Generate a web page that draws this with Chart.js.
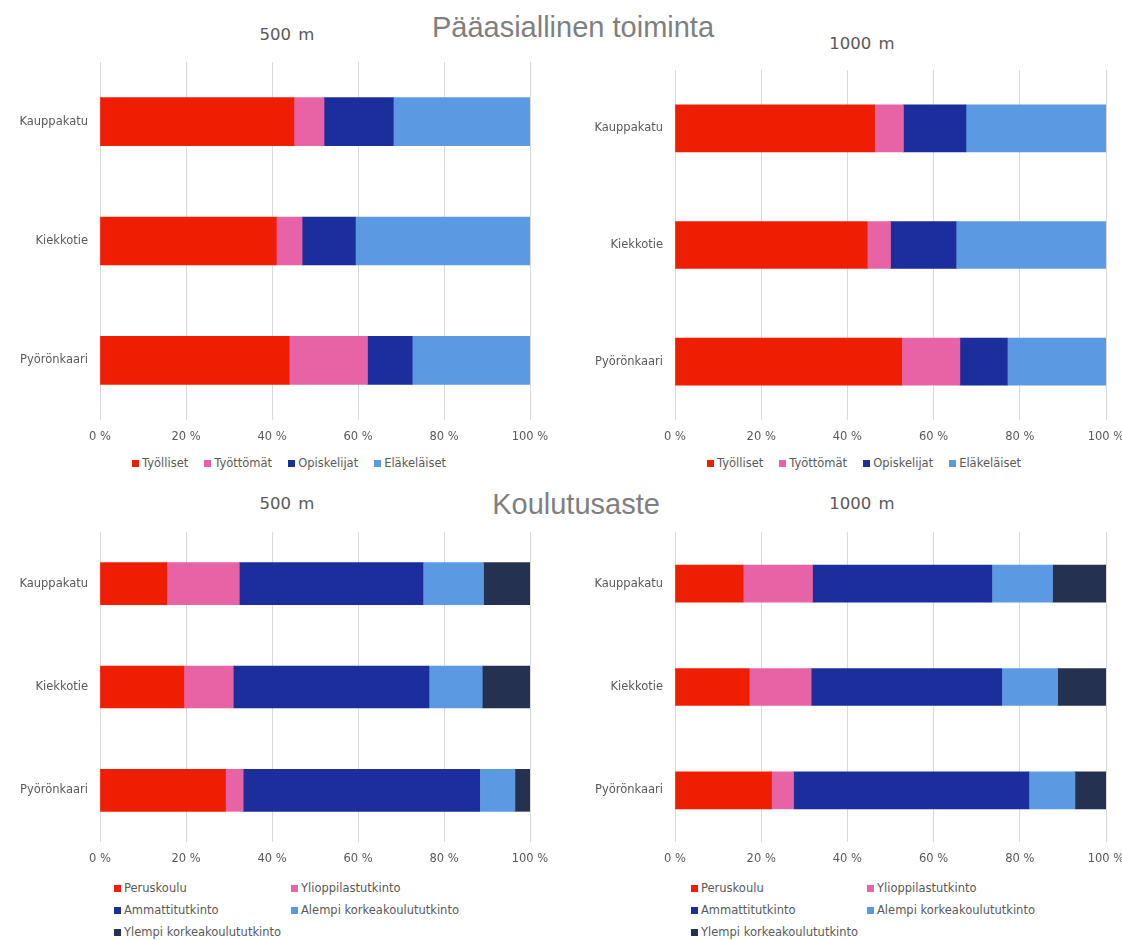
<!DOCTYPE html>
<html lang="fi">
<head>
<meta charset="utf-8">
<title>Pääasiallinen toiminta ja koulutusaste</title>
<script src="https://cdn.jsdelivr.net/npm/chart.js@4.4.1/dist/chart.umd.min.js"></script>
<style>
  html, body { margin: 0; padding: 0; background: #fff; }
  body { width: 1122px; height: 940px; position: relative; overflow: hidden; font-family: "DejaVu Sans", sans-serif; }
  .heading { position: absolute; font-family: "Liberation Sans", Arial, sans-serif; font-size: 29px; color: #7f7f7f; line-height: 34px; white-space: nowrap; transform: translateX(-50%); }
  .subtitle { position: absolute; font-size: 16.5px; color: #595959; line-height: 20px; white-space: nowrap; transform: translateX(-50%); word-spacing: 2px; }
  canvas { position: absolute; }
  .legend { position: absolute; font-size: 11.5px; color: #595959; line-height: 14px; white-space: nowrap; }
  .legend.row { transform: translateX(-50%); display: flex; gap: 16px; }
  .legend .item { display: flex; align-items: center; }
  .legend .box { width: 7px; height: 7px; margin-right: 3px; flex: none; }
  .legend.grid .item { position: absolute; }
</style>
</head>
<body>
<div class="heading" style="left:573px; top:10px;">Pääasiallinen toiminta</div>
<div class="heading" style="left:576px; top:487px;">Koulutusaste</div>

<div class="subtitle" style="left:287px; top:25px;">500 m</div>
<div class="subtitle" style="left:862px; top:34px;">1000 m</div>
<div class="subtitle" style="left:287px; top:494px;">500 m</div>
<div class="subtitle" style="left:862px; top:494px;">1000 m</div>

<canvas id="act500" width="560" height="400" style="left:0px; top:50px;"></canvas>
<canvas id="act1000" width="562" height="400" style="left:560px; top:50px;"></canvas>
<canvas id="edu500" width="560" height="355" style="left:0px; top:520px;"></canvas>
<canvas id="edu1000" width="562" height="355" style="left:560px; top:520px;"></canvas>

<div id="legAct500" class="legend row" style="left:289px; top:456px;"></div>
<div id="legAct1000" class="legend row" style="left:864px; top:456px;"></div>
<div id="legEdu500" class="legend grid" style="left:114px; top:881px;"></div>
<div id="legEdu1000" class="legend grid" style="left:691px; top:881px;"></div>

<script>
// Areas compared in every chart
const places = ['Kauppakatu', 'Kiekkotie', 'Pyörönkaari'];

// Axis ticks (percent)
const percentTicks = [0, 20, 40, 60, 80, 100];

// Main activity, series names
const activityNames = ['Työlliset', 'Työttömät', 'Opiskelijat', 'Eläkeläiset'];

// Main activity within 500 m (% of residents)
const tyolliset500 = [45.1, 41.0, 44.0];
const tyottomat500 = [7.0, 6.0, 18.2];
const opiskelijat500 = [16.1, 12.4, 10.4];
const elakelaiset500 = [31.8, 40.6, 27.4];

// Main activity within 1000 m (% of residents)
const tyolliset1000 = [46.3, 44.6, 52.6];
const tyottomat1000 = [6.7, 5.4, 13.5];
const opiskelijat1000 = [14.5, 15.2, 11.0];
const elakelaiset1000 = [32.5, 34.8, 22.9];

// Level of education, series names
const educationNames = ['Peruskoulu', 'Ylioppilastutkinto', 'Ammattitutkinto', 'Alempi korkeakoulututkinto', 'Ylempi korkeakoulututkinto'];

// Level of education within 500 m (% of residents)
const peruskoulu500 = [15.5, 19.5, 29.2];
const ylioppilas500 = [16.9, 11.5, 4.1];
const ammatti500 = [42.7, 45.5, 55.0];
const alempiKk500 = [14.1, 12.4, 8.2];
const ylempiKk500 = [10.8, 11.1, 3.5];

// Level of education within 1000 m (% of residents)
const peruskoulu1000 = [15.8, 17.2, 22.4];
const ylioppilas1000 = [16.1, 14.4, 5.1];
const ammatti1000 = [41.6, 44.2, 54.6];
const alempiKk1000 = [14.1, 13.0, 10.7];
const ylempiKk1000 = [12.4, 11.2, 7.2];

// Series colours
const palette = ['#f01e00', '#e763a5', '#1b2e9c', '#5b99e3', '#243150'];

Chart.defaults.font.family = '"DejaVu Sans", sans-serif';
Chart.defaults.font.size = 11.5;
Chart.defaults.color = '#595959';
Chart.defaults.animation = false;

function makeChart(id, names, series, geom) {
  const datasets = series.map((values, i) => ({
    label: names[i],
    data: values,
    backgroundColor: palette[i],
    borderWidth: 0,
    barThickness: geom.bar
  }));
  return new Chart(document.getElementById(id), {
    type: 'bar',
    data: { labels: places, datasets },
    options: {
      indexAxis: 'y',
      responsive: false,
      maintainAspectRatio: false,
      layout: { padding: { top: geom.top, right: geom.right, left: 0, bottom: 0 } },
      plugins: { legend: { display: false }, tooltip: { enabled: false }, title: { display: false } },
      scales: {
        x: {
          stacked: true,
          min: 0,
          max: 100,
          afterBuildTicks: (scale) => { scale.ticks = percentTicks.map(v => ({ value: v })); },
          ticks: { callback: (v) => v + ' %', padding: 10, maxRotation: 0, autoSkip: false },
          grid: { color: '#d9d9d9', lineWidth: 1, drawTicks: false },
          border: { display: false },
          afterFit: (scale) => { scale.height = geom.xh; scale.paddingLeft = 0; scale.paddingRight = 0; }
        },
        y: {
          stacked: true,
          ticks: { padding: 12 },
          grid: { display: false, drawTicks: false },
          border: { display: false },
          afterFit: (scale) => { scale.width = geom.yw; scale.paddingTop = 0; scale.paddingBottom = 0; }
        }
      }
    }
  });
}

function rowLegend(id, names) {
  const el = document.getElementById(id);
  names.forEach((n, i) => {
    const item = document.createElement('div');
    item.className = 'item';
    item.innerHTML = '<span class="box" style="background:' + palette[i] + '"></span><span></span>';
    item.lastChild.textContent = n;
    el.appendChild(item);
  });
}

function gridLegend(id, names, colStep) {
  const el = document.getElementById(id);
  names.forEach((n, i) => {
    const item = document.createElement('div');
    item.className = 'item';
    item.style.left = (i % 2) * colStep + 'px';
    item.style.top = Math.floor(i / 2) * 22 + 'px';
    item.innerHTML = '<span class="box" style="background:' + palette[i] + '"></span><span></span>';
    item.lastChild.textContent = n;
    el.appendChild(item);
  });
}

makeChart('act500', activityNames,
  [tyolliset500, tyottomat500, opiskelijat500, elakelaiset500],
  { top: 12, right: 30, xh: 30, yw: 100, bar: 48 });
makeChart('act1000', activityNames,
  [tyolliset1000, tyottomat1000, opiskelijat1000, elakelaiset1000],
  { top: 20, right: 16, xh: 30, yw: 115, bar: 47 });
makeChart('edu500', educationNames,
  [peruskoulu500, ylioppilas500, ammatti500, alempiKk500, ylempiKk500],
  { top: 12, right: 30, xh: 33, yw: 100, bar: 42 });
makeChart('edu1000', educationNames,
  [peruskoulu1000, ylioppilas1000, ammatti1000, alempiKk1000, ylempiKk1000],
  { top: 12, right: 16, xh: 33, yw: 115, bar: 37 });

rowLegend('legAct500', activityNames);
rowLegend('legAct1000', activityNames);
gridLegend('legEdu500', educationNames, 177);
gridLegend('legEdu1000', educationNames, 176);
</script>
</body>
</html>
